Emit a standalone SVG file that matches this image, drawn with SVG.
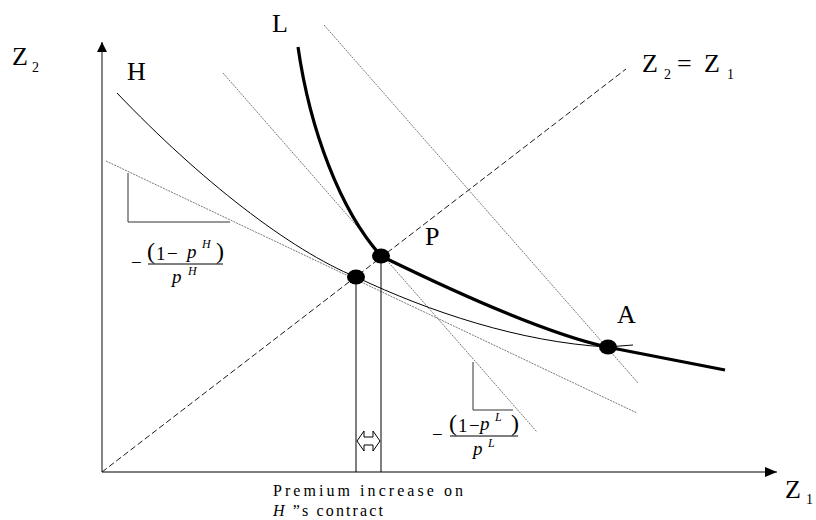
<svg xmlns="http://www.w3.org/2000/svg" width="816" height="520" viewBox="0 0 816 520">
<style>
text{font-family:"Liberation Serif","Times New Roman",serif;fill:#000}
.big{font-size:26px}
.sub{font-size:14px}
.frac{font-size:19px}
.par{font-size:24px}
.it{font-style:italic}
.sup{font-size:12px;font-style:italic}
.tan{fill:none;stroke:#555;stroke-width:0.8;stroke-dasharray:2 1}
.thin{fill:none;stroke:#000;stroke-width:1}
.dot{fill:#000}
</style>
<defs>
<marker id="ah" markerWidth="12" markerHeight="10" refX="12" refY="5" orient="auto" markerUnits="userSpaceOnUse">
<path d="M0,0 L12,5 L0,10 Z" fill="#000"/>
</marker>
<marker id="ahg" markerWidth="10" markerHeight="10" refX="10" refY="5" orient="auto" markerUnits="userSpaceOnUse">
<path d="M0,0 L10,5 L0,10 Z" fill="#000"/>
</marker>
</defs>
<rect width="816" height="520" fill="#fff"/>

<g id="axes">
<line x1="102" y1="472" x2="102" y2="42" stroke="#666" stroke-width="1.6" marker-end="url(#ahg)"/>
<line x1="102" y1="472" x2="777" y2="472" stroke="#000" stroke-width="1.2" marker-end="url(#ah)"/>
<text x="12" y="65" class="big">Z</text><text x="32" y="72" class="sub">2</text>
<text x="785" y="498" class="big">Z</text><text x="806" y="504" class="sub">1</text>
</g>

<g id="diagonal">
<line x1="102" y1="472" x2="626" y2="69" stroke="#000" stroke-width="0.9" stroke-dasharray="6 3"/>
<text x="642" y="72" class="big">Z</text><text x="664" y="79" class="sub">2</text>
<text x="677" y="72" class="big">=</text>
<text x="704" y="72" class="big">Z</text><text x="727" y="79" class="sub">1</text>
</g>

<g id="tangents">
<line x1="106" y1="161" x2="637" y2="413" class="tan"/>
<line x1="223" y1="73" x2="537" y2="432" class="tan"/>
<line x1="324" y1="25" x2="638" y2="383" class="tan"/>
</g>

<g id="curve-H">
<path d="M117,93 C200,180 290,250 356,277 C430,312 520,342 607,347 L633,345" class="thin"/>
<text x="127" y="80" class="big">H</text>
</g>

<g id="curve-L">
<path d="M298,47 C310,130 340,210 381,256 C430,280 540,332 607,347 L725,370" fill="none" stroke="#000" stroke-width="3.2"/>
<text x="272" y="32" class="big">L</text>
</g>

<g id="verticals">
<line x1="356" y1="277" x2="356" y2="472" class="thin"/>
<line x1="381" y1="256" x2="381" y2="472" class="thin"/>
<path d="M357,441 L364,431 L364,437 L373,437 L373,431 L380,441 L373,451 L373,445 L364,445 L364,451 Z" fill="#fff" stroke="#000" stroke-width="1"/>
</g>

<g id="point-H"><ellipse cx="356" cy="277" rx="9" ry="7.5" class="dot"/></g>
<g id="point-P"><ellipse cx="381" cy="256" rx="9" ry="7.5" class="dot"/><text x="425" y="245" class="big">P</text></g>
<g id="point-A"><ellipse cx="608" cy="347" rx="9" ry="7.5" class="dot"/><text x="617" y="323" class="big">A</text></g>

<g id="slope-H">
<polyline points="128,173 128,222 230,222" fill="none" stroke="#333" stroke-width="1"/>
<text x="131" y="269" class="frac">−</text>
<line x1="148" y1="264" x2="223" y2="264" stroke="#000" stroke-width="1"/>
<text x="147" y="259" class="par">(</text>
<text x="156" y="260" class="frac">1</text>
<text x="167" y="260" class="frac">−</text>
<text x="187" y="258" class="frac it">p</text>
<text x="202" y="248" class="sup">H</text>
<text x="216" y="259" class="par">)</text>
<text x="172" y="283" class="frac it">p</text>
<text x="188" y="275" class="sup">H</text>
</g>

<g id="slope-L">
<polyline points="473,362 473,410 513,410" fill="none" stroke="#333" stroke-width="1"/>
<text x="432" y="441" class="frac">−</text>
<line x1="450" y1="436" x2="518" y2="436" stroke="#000" stroke-width="1"/>
<text x="449" y="431" class="par">(</text>
<text x="458" y="432" class="frac">1</text>
<text x="469" y="432" class="frac">−</text>
<text x="480" y="430" class="frac it">p</text>
<text x="495" y="421" class="sup">L</text>
<text x="511" y="431" class="par">)</text>
<text x="473" y="455" class="frac it">p</text>
<text x="488" y="447" class="sup">L</text>
</g>

<g id="caption">
<text x="273" y="496" font-size="16px" textLength="190" lengthAdjust="spacing">Premium increase on</text>
<text x="273" y="516" font-size="16px" textLength="110" lengthAdjust="spacing"><tspan font-style="italic">H</tspan> ”s contract</text>
</g>
</svg>
